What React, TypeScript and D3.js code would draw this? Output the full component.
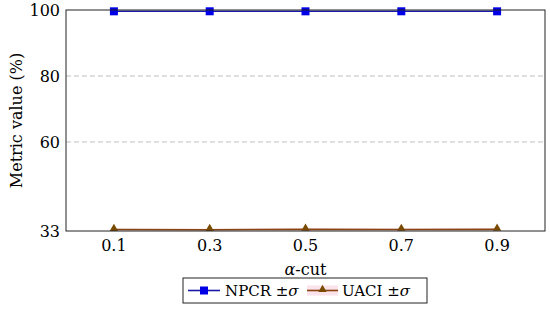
import React, { useEffect, useRef } from "react";
import * as d3 from "d3";

// alpha-cut levels
const alphaCuts = [0.1, 0.3, 0.5, 0.7, 0.9];
// metric means and std devs (%)
const npcrMean = [99.6, 99.61, 99.6, 99.61, 99.6];
const npcrStd = [0.01, 0.01, 0.01, 0.01, 0.01];
const uaciMean = [33.45, 33.4, 33.48, 33.47, 33.5];
const uaciStd = [0.3, 0.3, 0.3, 0.3, 0.3];
const yTicks = [33, 60, 80, 100];
const gridTicks = [60, 80];

export default function App() {
  const svgRef = useRef<SVGSVGElement | null>(null);

  useEffect(() => {
    const svg = d3.select(svgRef.current);
    svg.selectAll("*").remove();
    const width = 550;
    const height = 312;
    const margin = { top: 10, right: 5, bottom: 81, left: 66 };
    const fs = 16;
    const ff = "DejaVu Serif, serif";

    const x = d3.scaleLinear().domain([0, 1]).range([margin.left, width - margin.right]);
    const y = d3.scaleLinear().domain([33, 100]).range([height - margin.bottom, margin.top]);

    // grid
    svg
      .append("g")
      .selectAll("line")
      .data(gridTicks)
      .enter()
      .append("line")
      .attr("x1", margin.left)
      .attr("x2", width - margin.right)
      .attr("y1", (d) => y(d))
      .attr("y2", (d) => y(d))
      .attr("stroke", "#c0c0c0")
      .attr("stroke-dasharray", "5,3");

    // UACI error band
    const band = d3
      .area<number>()
      .x((_, i) => x(alphaCuts[i]))
      .y0((d, i) => y(d - uaciStd[i]))
      .y1((d, i) => y(d + uaciStd[i]));
    svg.append("path").datum(uaciMean).attr("d", band).attr("fill", "#f8d0e0").attr("opacity", 0.6);

    const npcrBand = d3
      .area<number>()
      .x((_, i) => x(alphaCuts[i]))
      .y0((d, i) => y(d - npcrStd[i]))
      .y1((d, i) => y(d + npcrStd[i]));
    svg.append("path").datum(npcrMean).attr("d", npcrBand).attr("fill", "#c0c0ff").attr("opacity", 0.5);

    const line = d3
      .line<number>()
      .x((_, i) => x(alphaCuts[i]))
      .y((d) => y(d));

    svg.append("path").datum(npcrMean).attr("d", line).attr("fill", "none").attr("stroke", "#1a1aa8").attr("stroke-width", 1.6);
    svg.append("path").datum(uaciMean).attr("d", line).attr("fill", "none").attr("stroke", "#8b4513").attr("stroke-width", 1.6);

    // markers
    svg
      .append("g")
      .selectAll("rect")
      .data(npcrMean)
      .enter()
      .append("rect")
      .attr("x", (_, i) => x(alphaCuts[i]) - 4)
      .attr("y", (d) => y(d) - 4)
      .attr("width", 8)
      .attr("height", 8)
      .attr("fill", "#0000e6");

    const tri = d3.symbol().type(d3.symbolTriangle).size(30);
    svg
      .append("g")
      .selectAll("path")
      .data(uaciMean)
      .enter()
      .append("path")
      .attr("d", tri)
      .attr("transform", (d, i) => `translate(${x(alphaCuts[i])},${y(d) - 1})`)
      .attr("fill", "#7a4a00");

    // frame
    svg
      .append("rect")
      .attr("x", margin.left)
      .attr("y", margin.top)
      .attr("width", width - margin.left - margin.right)
      .attr("height", height - margin.top - margin.bottom)
      .attr("fill", "none")
      .attr("stroke", "#222")
      .attr("stroke-width", 1);

    const txt = (sel: any) => sel.style("font-family", ff).style("font-size", fs + "px");

    // y ticks
    svg
      .append("g")
      .selectAll("text")
      .data(yTicks)
      .enter()
      .append("text")
      .attr("x", margin.left - 6)
      .attr("y", (d) => y(d))
      .attr("dy", "0.35em")
      .attr("text-anchor", "end")
      .call(txt)
      .text((d) => d);

    // x ticks
    svg
      .append("g")
      .selectAll("text")
      .data(alphaCuts)
      .enter()
      .append("text")
      .attr("x", (d) => x(d))
      .attr("y", height - margin.bottom + 20)
      .attr("text-anchor", "middle")
      .call(txt)
      .text((d) => d.toFixed(1));

    // axis labels
    svg
      .append("text")
      .attr("x", (margin.left + width - margin.right) / 2)
      .attr("y", 275)
      .attr("text-anchor", "middle")
      .call(txt)
      .html("<tspan font-style='italic'>α</tspan>-cut");

    svg
      .append("text")
      .attr("transform", `translate(22,${(margin.top + height - margin.bottom) / 2}) rotate(-90)`)
      .attr("text-anchor", "middle")
      .call(txt)
      .text("Metric value (%)");

    // legend
    const lg = svg.append("g").attr("transform", "translate(183,278)");
    lg.append("rect").attr("width", 244).attr("height", 25).attr("fill", "#fff").attr("stroke", "#222");
    lg.append("line").attr("x1", 5).attr("x2", 37).attr("y1", 12.5).attr("y2", 12.5).attr("stroke", "#1a1aa8").attr("stroke-width", 1.6);
    lg.append("rect").attr("x", 17).attr("y", 8.5).attr("width", 8).attr("height", 8).attr("fill", "#0000e6");
    lg.append("text")
      .attr("x", 42)
      .attr("y", 18)
      .call(txt)
      .style("font-size", "15px")
      .html("NPCR ±<tspan font-style='italic'>σ</tspan>");
    lg.append("rect").attr("x", 124).attr("y", 7.5).attr("width", 31).attr("height", 10).attr("fill", "#f8d0e0").attr("opacity", 0.6);
    lg.append("line").attr("x1", 124).attr("x2", 155).attr("y1", 12.5).attr("y2", 12.5).attr("stroke", "#8b4513").attr("stroke-width", 1.6);
    lg.append("path").attr("d", tri).attr("transform", "translate(139.5,11.5)").attr("fill", "#7a4a00");
    lg.append("text")
      .attr("x", 159)
      .attr("y", 18)
      .call(txt)
      .style("font-size", "15px")
      .html("UACI ±<tspan font-style='italic'>σ</tspan>");
  }, []);

  return (
    <svg
      ref={svgRef}
      width={550}
      height={312}
      style={{ position: "absolute", left: 0, top: 0, background: "#fff" }}
    ></svg>
  );
}
